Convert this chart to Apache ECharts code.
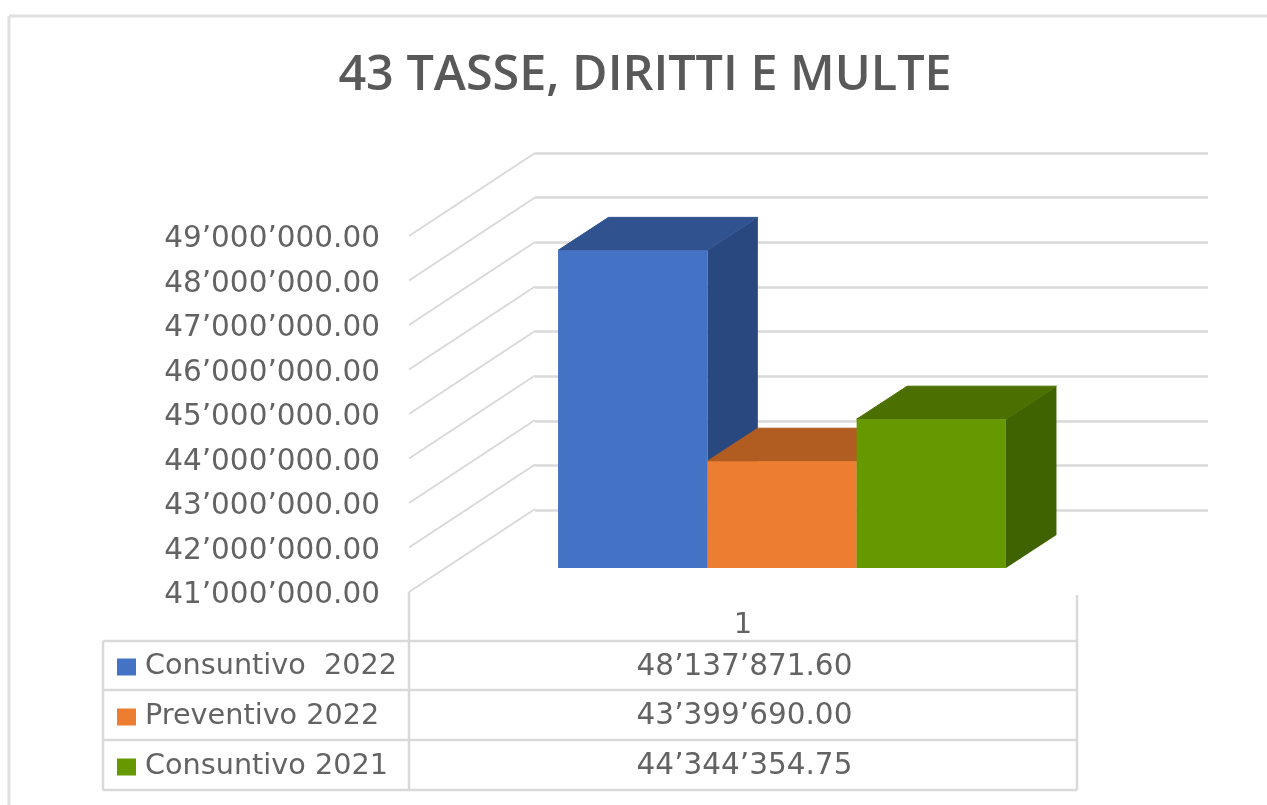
<!DOCTYPE html>
<html>
<head>
<meta charset="UTF-8">
<title>43 TASSE, DIRITTI E MULTE</title>
<script type="text/javascript" src="https://cdn.jsdelivr.net/npm/echarts@6/dist/echarts.min.js"></script>
<style>
  html,body{margin:0;padding:0;background:#fff}
</style>
</head>
<body>
	<div id="main" style="width:1267px;height:805px"></div>
	<script type="text/javascript">
	var titleText = '43 TASSE, DIRITTI E MULTE';
	var categories = ['1'];
	var seriesNames = ['Consuntivo  2022', 'Preventivo 2022', 'Consuntivo 2021'];
	var seriesValues = [48137871.60, 43399690.00, 44344354.75];
	var tableTexts = ['48’137’871.60', '43’399’690.00', '44’344’354.75'];
	var axisTicks = [41000000, 42000000, 43000000, 44000000, 45000000, 46000000, 47000000, 48000000, 49000000];

	var frontColors = ['#4472C4', '#ED7D31', '#669900'];
	var topColors = ['#30538F', '#B15D21', '#4C7000'];
	var sideColors = ['#2A4880', '#9E5320', '#3F6300'];

	var textColor = '#636363';
	var titleColor = '#595959';
	var lineColor = '#D9D9D9';
	var fontName = '"DejaVu Sans"';
	var wallDx = 126, wallDy = -83;   // floor depth, front to back wall
	var barShiftX = 39, barShiftY = -24; // bars stand part way back on the floor
	var barDx = 50.5, barDy = -33;    // depth of one bar
	var barW = 149.3;

	function tickLabel(v){
		return String(v).replace(/\B(?=(\d{3})+$)/g, '’') + '.00';
	}

	// one 3D column : front, top and side faces
	function renderColumn(i){
		return function(params, api){
			var p = api.coord([0, api.value(1)]);
			var base = api.coord([0, axisTicks[0]]);
			var x0 = p[0] + barShiftX + (i - 1.5) * barW;
			var x1 = x0 + barW;
			var yt = p[1] + barShiftY;
			var yb = base[1] + barShiftY;
			return {
				type: 'group',
				children: [
					{type: 'polygon', shape: {points: [[x1, yt], [x1 + barDx, yt + barDy], [x1 + barDx, yb + barDy], [x1, yb]]}, style: {fill: sideColors[i]}},
					{type: 'polygon', shape: {points: [[x0, yt], [x0 + barDx, yt + barDy], [x1 + barDx, yt + barDy], [x1, yt]]}, style: {fill: topColors[i], stroke: topColors[i], lineWidth: 1}},
					{type: 'rect', shape: {x: x0, y: yt, width: barW, height: yb - yt}, style: {fill: frontColors[i]}}
				]
			};
		};
	}

	// slanted lines on the side wall
	function renderDiagonal(params, api){
		var p = api.coord([0, api.value(0)]);
		var x = params.coordSys.x;
		return {type: 'line', shape: {x1: x, y1: p[1], x2: x + wallDx, y2: p[1] + wallDy}, style: {stroke: lineColor, lineWidth: 2}};
	}

	var series = [{
		type: 'custom',
		name: 'pareti',
		silent: true,
		xAxisIndex: 0,
		yAxisIndex: 0,
		encode: {y: 0},
		renderItem: renderDiagonal,
		data: axisTicks.map(function(v){ return [v]; }),
		z: 1
	}];
	seriesNames.forEach(function(name, i){
		series.push({
			type: 'custom',
			name: name,
			xAxisIndex: 0,
			yAxisIndex: 0,
			itemStyle: {color: frontColors[i]},
			encode: {x: 0, y: 1},
			renderItem: renderColumn(i),
			data: [[categories[0], seriesValues[i]]],
			z: 3 + i
		});
	});

	// frame and data table
	var tableLeft = 103, tableCol = 409, tableRight = 1077;
	var rowLines = [641, 690, 740, 790];
	var graphics = [];
	function addLine(x1, y1, x2, y2, color, w){
		graphics.push({type: 'line', silent: true, shape: {x1: x1, y1: y1, x2: x2, y2: y2}, style: {stroke: color || lineColor, lineWidth: w || 2.5}});
	}
	addLine(9, 16, 1267, 16, '#E0E0E0', 3);
	addLine(9, 16, 9, 805, '#E0E0E0', 3);
	rowLines.forEach(function(y){ addLine(tableLeft, y, tableRight, y); });
	addLine(tableLeft, rowLines[0], tableLeft, rowLines[3]);
	addLine(tableCol, 592, tableCol, rowLines[3]);
	addLine(tableRight, 595, tableRight, rowLines[3]);
	tableTexts.forEach(function(t, i){
		graphics.push({
			type: 'text',
			silent: true,
			x: 744.5,
			y: (rowLines[i] + rowLines[i + 1]) / 2 + 1.5,
			style: {text: t, fill: textColor, font: '29.5px ' + fontName, textAlign: 'center', textVerticalAlign: 'middle'}
		});
	});

	var myEchart = echarts.init(document.getElementById('main'));
	var option = {
		animation: false,
		backgroundColor: '#fff',
		title: {
			text: titleText,
			left: 640,
			top: 47,
			textAlign: 'center',
			textStyle: {color: titleColor, fontFamily: '"Open Sans"', fontSize: 48.5, fontWeight: 600}
		},
		legend: {
			orient: 'vertical',
			left: 117,
			top: 649,
			padding: 0,
			itemWidth: 19,
			itemHeight: 17,
			itemGap: 14,
			icon: 'rect',
			selectedMode: false,
			data: seriesNames,
			textStyle: {color: textColor, fontFamily: fontName, fontSize: 28.7, padding: [0, 0, 0, 4], lineHeight: 36}
		},
		grid: [
			{left: 409, width: 668, top: 236, height: 356},
			{left: 535, width: 673, top: 153, height: 357}
		],
		xAxis: [
			{
				type: 'category',
				gridIndex: 0,
				data: categories,
				axisLine: {show: false},
				axisTick: {show: false},
				axisLabel: {color: textColor, fontFamily: fontName, fontSize: 29, margin: 19}
			},
			{type: 'category', gridIndex: 1, data: categories, show: false}
		],
		yAxis: [
			{
				type: 'value',
				gridIndex: 0,
				min: axisTicks[0],
				max: axisTicks[axisTicks.length - 1],
				interval: 1000000,
				axisLine: {show: false},
				axisTick: {show: false},
				splitLine: {show: false},
				axisLabel: {color: textColor, fontFamily: fontName, fontSize: 29.5, margin: 29, verticalAlign: 'top', lineHeight: 7, formatter: tickLabel}
			},
			{
				type: 'value',
				gridIndex: 1,
				min: axisTicks[0],
				max: axisTicks[axisTicks.length - 1],
				interval: 1000000,
				axisLine: {show: false},
				axisTick: {show: false},
				axisLabel: {show: false},
				splitLine: {show: true, lineStyle: {color: lineColor, width: 2.5}}
			}
		],
		graphic: graphics,
		series: series
	};
	myEchart.setOption(option);
	</script>
</body>
</html>
